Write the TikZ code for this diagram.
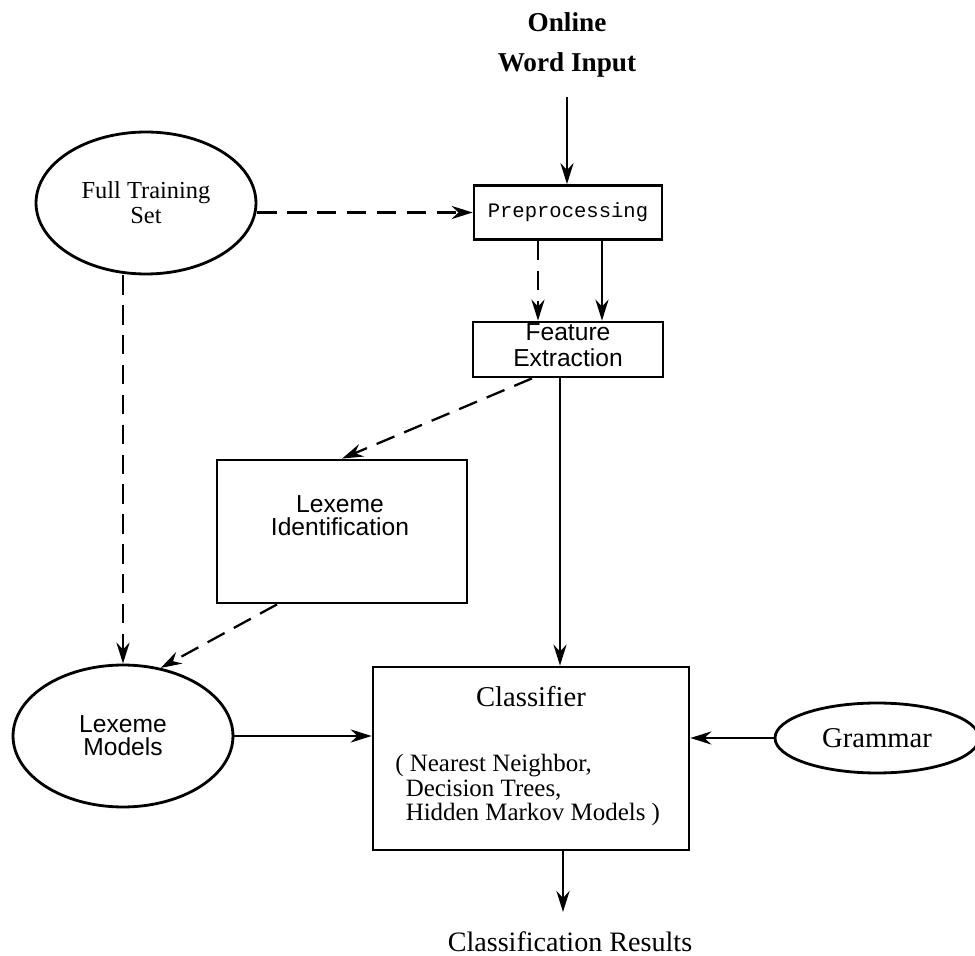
\documentclass[tikz,border=0pt]{standalone}
\usepackage{fontspec}
\setmainfont{Liberation Serif}
\setsansfont{Liberation Sans}
\setmonofont{Liberation Mono}
\usetikzlibrary{shapes.geometric,arrows.meta}
\begin{document}
\begin{tikzpicture}[x=0.02cm,y=-0.02cm,
  boxnode/.style={draw,line width=1.6pt,rectangle,inner sep=0pt},
  ellnode/.style={draw,line width=1.6pt,ellipse,inner sep=0pt},
  txt/.style={inner sep=0pt,align=center},
  conn/.style={line width=1.3pt,-{Stealth[length=12pt,width=7.5pt,inset=4pt]}},
  dconn/.style={conn,dash pattern=on 11pt off 6pt}]
\useasboundingbox (0,0) rectangle (975,956);
% nodes
\node[txt,font=\bfseries\fontsize{15.5}{22.7}\selectfont] (inp) at (567,45) {Online\\Word Input};
\node[boxnode,minimum width=3.76cm,minimum height=1.08cm,font=\ttfamily\fontsize{11.7}{13}\selectfont] (pp) at (568,212.5) {Preprocessing};
\node[ellnode,minimum width=4.4cm,minimum height=2.84cm,align=center,font=\fontsize{13.9}{14.2}\selectfont] (fts) at (146,203) {Full Training\\Set};
\node[boxnode,minimum width=3.8cm,minimum height=1.1cm] (fe) at (568,349.5) {};
\node[txt,font=\sffamily\fontsize{14}{14.7}\selectfont] (fetxt) at (568,345) {Feature\\Extraction};
\node[boxnode,minimum width=5.0cm,minimum height=2.86cm] (li) at (342,531.5) {};
\node[txt,font=\sffamily\fontsize{14}{13}\selectfont] (litxt) at (340,516) {Lexeme\\Identification};
\node[ellnode,minimum width=4.4cm,minimum height=2.84cm,align=center,font=\sffamily\fontsize{14}{13}\selectfont] (lm) at (123,736) {Lexeme\\Models};
\node[boxnode,minimum width=6.32cm,minimum height=3.66cm] (cls) at (531,758.5) {};
\node[txt,font=\fontsize{16.3}{18}\selectfont] (clstxt) at (531,697) {Classifier};
\node[txt,anchor=west,align=left,font=\fontsize{14.2}{14.2}\selectfont] (clslist) at (395,790) {( Nearest Neighbor,\\\ \,Decision Trees,\\\ \,Hidden Markov Models )};
\node[ellnode,minimum width=4.08cm,minimum height=1.4cm,font=\fontsize{16.3}{18}\selectfont] (gr) at (877,738) {Grammar};
\node[txt,font=\fontsize{16}{18}\selectfont] (res) at (570,942) {Classification Results};
% helper coordinates
\coordinate (inpend) at (567,97);
\coordinate (xb) at (538,0);
\coordinate (xc) at (602,0);
\coordinate (xd) at (532,0);
\coordinate (xa) at (560,0);
\coordinate (xe) at (277,0);
\coordinate (resin) at (563,912);
% connectors
\draw[conn] (inpend) -- (inpend |- pp.north);
\draw[dconn] (fts.east |- pp.west) -- (pp.west);
\draw[dconn] (pp.south -| xb) -- (fe.north -| xb);
\draw[conn] (pp.south -| xc) -- (fe.north -| xc);
\draw[dconn] (fe.south -| xd) -- (li.north);
\draw[conn] (fe.south -| xa) -- (cls.north -| xa);
\draw[dconn] (fts.south -| lm.north) -- (lm.north);
\draw[dconn] (li.south -| xe) -- (lm.61);
\draw[conn] (lm.east) -- (lm.east -| cls.west);
\draw[conn] (gr.west) -- (gr.west -| cls.east);
\draw[conn] (resin |- cls.south) -- (resin);
\end{tikzpicture}
\end{document}
